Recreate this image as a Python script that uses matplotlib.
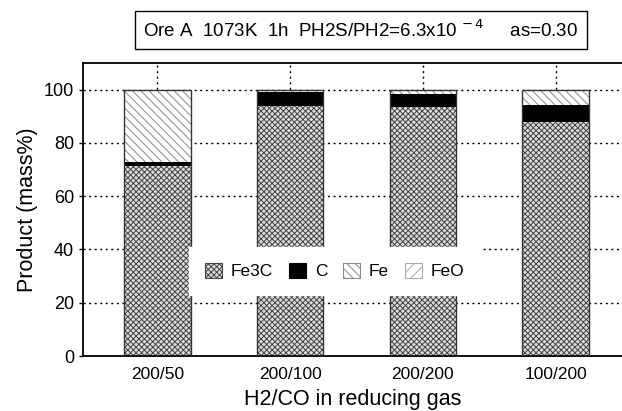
import matplotlib
matplotlib.use("Agg")
import matplotlib.pyplot as plt
import numpy as np

plt.rcParams['font.family'] = ['Liberation Sans', 'DejaVu Sans']
plt.rcParams['hatch.linewidth'] = 0.7

categories = ["200/50", "200/100", "200/200", "100/200"]
fe3c = [71.3, 94.0, 93.5, 88.0]
c = [1.6, 5.0, 5.0, 6.3]
fe = [27.1, 1.0, 1.5, 5.7]
feo = [0.0, 0.0, 0.0, 0.0]
yticks = [0, 20, 40, 60, 80, 100]

fig = plt.figure(figsize=(6.22, 4.11), dpi=100)
ax = fig.add_axes([0.1334, 0.1338, 0.8666, 0.713])

x = np.arange(len(categories))
w = 0.5
bottom = np.zeros(len(categories))
series = [
    ("Fe3C", fe3c, "#dcdcdc", "xxxxxx", "#444444"),
    ("C", c, "black", None, "black"),
    ("Fe", fe, "white", "\\\\\\\\", "#888888"),
    ("FeO", feo, "white", "///", "#aaaaaa"),
]
for name, vals, fc, hatch, hc in series:
    ax.bar(x, vals, w, bottom=bottom, color=fc, hatch=hatch, edgecolor=hc,
           linewidth=0, label=name, zorder=2)
    bottom += np.array(vals)
# outline of each bar
ax.bar(x, bottom, w, fill=False, edgecolor="#333333", linewidth=1, zorder=3)

ax.set_xlim(-0.56, 3.5)
ax.set_ylim(0, 110)
ax.set_yticks(yticks)
ax.set_xticks(x)
ax.set_xticklabels(categories)
ax.tick_params(axis="x", length=0, labelsize=12.5, pad=8)
ax.tick_params(axis="y", length=3, labelsize=13, width=1)
ax.grid(True, linestyle=(0, (1.5, 2.5)), color="black", linewidth=1)
ax.set_axisbelow(True)
ax.spines["right"].set_visible(False)
for s in ["left", "top", "bottom"]:
    ax.spines[s].set_linewidth(1.3)

ax.set_ylabel("Product (mass%)", fontsize=15.5)
ax.set_xlabel("H2/CO in reducing gas", fontsize=15.5, labelpad=5)

leg = ax.legend(loc="center", bbox_to_anchor=(0.467, 0.29), ncol=4,
                fontsize=12.5, handlelength=1.0, handleheight=1.0,
                handletextpad=0.5, columnspacing=0.9, frameon=True,
                fancybox=False, borderpad=0.9)
leg.get_frame().set_edgecolor("white")
leg.get_frame().set_alpha(1)
for h in leg.legend_handles:
    h.set_linewidth(0.8)

fig.text(0.58, 0.927, "Ore A  1073K  1h  PH2S/PH2=6.3x10$^{\\,-4}$     as=0.30",
         ha="center", va="center", fontsize=13.5,
         bbox=dict(boxstyle="square,pad=0.45", fc="white", ec="black", lw=1))

fig.savefig("out.png", dpi=100)
